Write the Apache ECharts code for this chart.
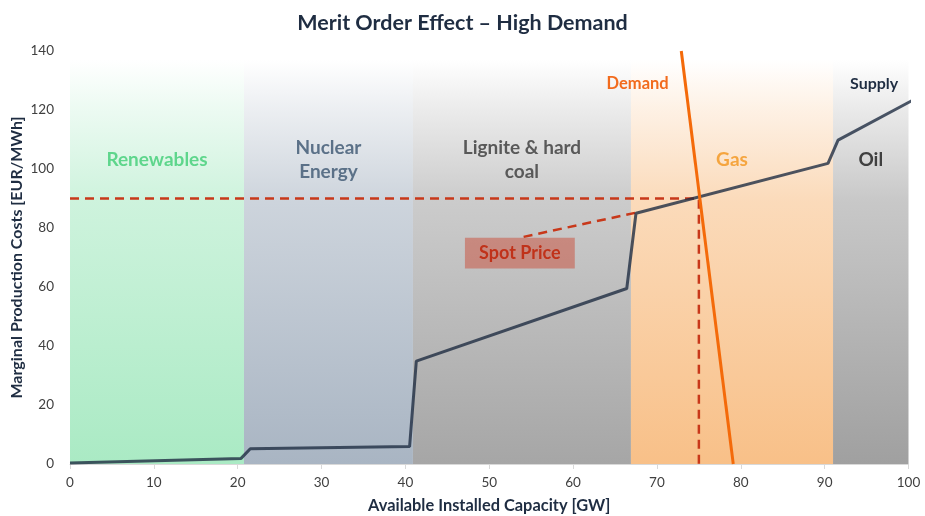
<!DOCTYPE html>
<html>
<head>
<meta charset="utf-8">
<title>Merit Order Effect – High Demand</title>
<script src="https://cdn.jsdelivr.net/npm/echarts@6/dist/echarts.min.js"></script>
<style>
  html, body { margin: 0; padding: 0; background: #ffffff; }
  #chart { width: 925px; height: 516px; }
</style>
</head>
<body>
<div id="chart"></div>
<script>
// Supply curve (merit order): capacity [GW] vs. marginal cost [EUR/MWh]
const supplyCapacity = [0, 20.4, 21.5, 40.5, 41.3, 66.4, 67.5, 90.4, 91.6, 100.5];
const supplyCost     = [0.3, 1.9, 5.2, 5.9, 34.9, 59.5, 85.0, 101.9, 109.8, 123.3];

// Demand curve
const demandCapacity = [72.9, 79.1];
const demandCost     = [140, 0];

// Market clearing point
const spotCapacity = 75;
const spotPrice = 90;

// Technology bands along the capacity axis
const bandNames  = ['Renewables', 'Nuclear\nEnergy', 'Lignite & hard\ncoal', 'Gas', 'Oil'];
const bandStarts = [0, 20.75, 40.9, 66.9, 91.0];
const bandEnds   = [20.75, 40.9, 66.9, 91.0, 100];

// Axis ticks
const xTicks = [0, 10, 20, 30, 40, 50, 60, 70, 80, 90, 100];
const yTicks = [0, 20, 40, 60, 80, 100, 120, 140];

const FONT = 'Lato, "Open Sans", sans-serif';
const bandColors = ['170,234,196', '169,181,195', '166,166,166', '248,192,136', '160,160,160'];
const bandLabelColors = ['#5ed68c', '#5b7188', '#595959', '#f5a53f', '#404040'];
const bandTop = 137;

// Vertical fade: transparent at the top, full band colour at the axis
function fade(rgb) {
  return {
    type: 'linear', x: 0, y: 0, x2: 0, y2: 1,
    colorStops: [
      { offset: 0, color: 'rgba(' + rgb + ',0)' },
      { offset: 0.12, color: 'rgba(' + rgb + ',0.22)' },
      { offset: 0.35, color: 'rgba(' + rgb + ',0.58)' },
      { offset: 1, color: 'rgba(' + rgb + ',1)' }
    ]
  };
}

const bandAreas = bandNames.map((name, i) => [
  {
    name: name,
    xAxis: bandStarts[i],
    yAxis: bandTop,
    itemStyle: { color: fade(bandColors[i]) },
    label: {
      show: true,
      position: ['50%', 100],
      align: 'center',
      verticalAlign: 'middle',
      formatter: name,
      color: bandLabelColors[i],
      fontFamily: FONT,
      fontWeight: 'bold',
      fontSize: 19,
      lineHeight: 24
    }
  },
  { xAxis: bandEnds[i], yAxis: 0 }
]);

const supplyData = supplyCapacity.map((c, i) => [c, supplyCost[i]]);
const demandData = demandCapacity.map((c, i) => [c, demandCost[i]]);
const spotGuide = [[0, spotPrice], [spotCapacity, spotPrice], [spotCapacity, 0]];

const chart = echarts.init(document.getElementById('chart'), null, { renderer: 'canvas' });

chart.setOption({
  animation: false,
  backgroundColor: '#ffffff',
  title: {
    text: 'Merit Order Effect – High Demand',
    left: 'center',
    top: 7,
    textStyle: { fontFamily: FONT, fontWeight: 'bold', fontSize: 21.5, color: '#1f2d42' }
  },
  grid: { left: 70, right: 16.5, top: 51, bottom: 52, containLabel: false, outerBoundsMode: 'none' },
  xAxis: {
    type: 'value',
    min: xTicks[0],
    max: xTicks[xTicks.length - 1],
    interval: 10,
    name: 'Available Installed Capacity [GW]',
    nameLocation: 'middle',
    nameGap: 34,
    nameMoveOverlap: false,
    nameTextStyle: { fontFamily: FONT, fontWeight: 'bold', fontSize: 16.4, color: '#1f2d42' },
    axisLine: { show: true, lineStyle: { color: '#d9d9d9', width: 1 } },
    axisTick: { show: true, length: 5, lineStyle: { color: '#d9d9d9' } },
    axisLabel: { margin: 12, fontFamily: FONT, fontSize: 13.5, color: '#404040' },
    splitLine: { show: false }
  },
  yAxis: {
    type: 'value',
    min: yTicks[0],
    max: yTicks[yTicks.length - 1],
    interval: 20,
    name: 'Marginal Production Costs [EUR/MWh]',
    nameLocation: 'middle',
    nameGap: 45,
    nameMoveOverlap: false,
    nameTextStyle: { fontFamily: FONT, fontWeight: 'bold', fontSize: 16, color: '#1f2d42' },
    axisLine: { show: false },
    axisTick: { show: false },
    axisLabel: { margin: 16, fontFamily: FONT, fontSize: 13.5, color: '#404040' },
    splitLine: { show: false }
  },
  series: [
    {
      name: 'Bands',
      type: 'line',
      data: [],
      silent: true,
      z: 1,
      markArea: { silent: true, data: bandAreas }
    },
    {
      name: 'Spot price guide',
      type: 'line',
      data: spotGuide,
      symbol: 'none',
      z: 3,
      lineStyle: { color: '#c8381a', width: 2.5, type: [9, 6] }
    },
    {
      name: 'Spot price pointer',
      type: 'line',
      data: [[54.1, 77.0], [67.5, 85.2]],
      symbol: 'none',
      z: 3,
      lineStyle: { color: '#c8381a', width: 2.5, type: [9, 6] },
      markArea: {
        silent: true,
        data: [[
          {
            xAxis: 47.1, yAxis: 76.7,
            itemStyle: { color: 'rgba(202,76,56,0.5)' },
            label: {
              show: true,
              position: 'inside',
              formatter: 'Spot Price',
              color: '#c0321a',
              fontFamily: FONT,
              fontWeight: 'bold',
              fontSize: 18
            }
          },
          { xAxis: 60.2, yAxis: 66.3 }
        ]]
      }
    },
    {
      name: 'Supply',
      type: 'line',
      data: supplyData,
      symbol: 'none',
      clip: false,
      z: 4,
      lineStyle: { color: 'rgba(31,45,66,0.8)', width: 3 },
      markPoint: {
        symbol: 'circle',
        symbolSize: 0,
        data: [{
          coord: [95.9, 129],
          label: {
            show: true, formatter: 'Supply', color: '#1f2d42',
            fontFamily: FONT, fontWeight: 'bold', fontSize: 16
          }
        }]
      }
    },
    {
      name: 'Demand',
      type: 'line',
      data: demandData,
      symbol: 'none',
      z: 5,
      lineStyle: { color: '#f46a0a', width: 3 },
      markPoint: {
        symbol: 'circle',
        symbolSize: 0,
        data: [{
          coord: [67.7, 129],
          label: {
            show: true, formatter: 'Demand', color: '#f26b1d',
            fontFamily: FONT, fontWeight: 'bold', fontSize: 16.5
          }
        }]
      }
    }
  ]
});
</script>
</body>
</html>
